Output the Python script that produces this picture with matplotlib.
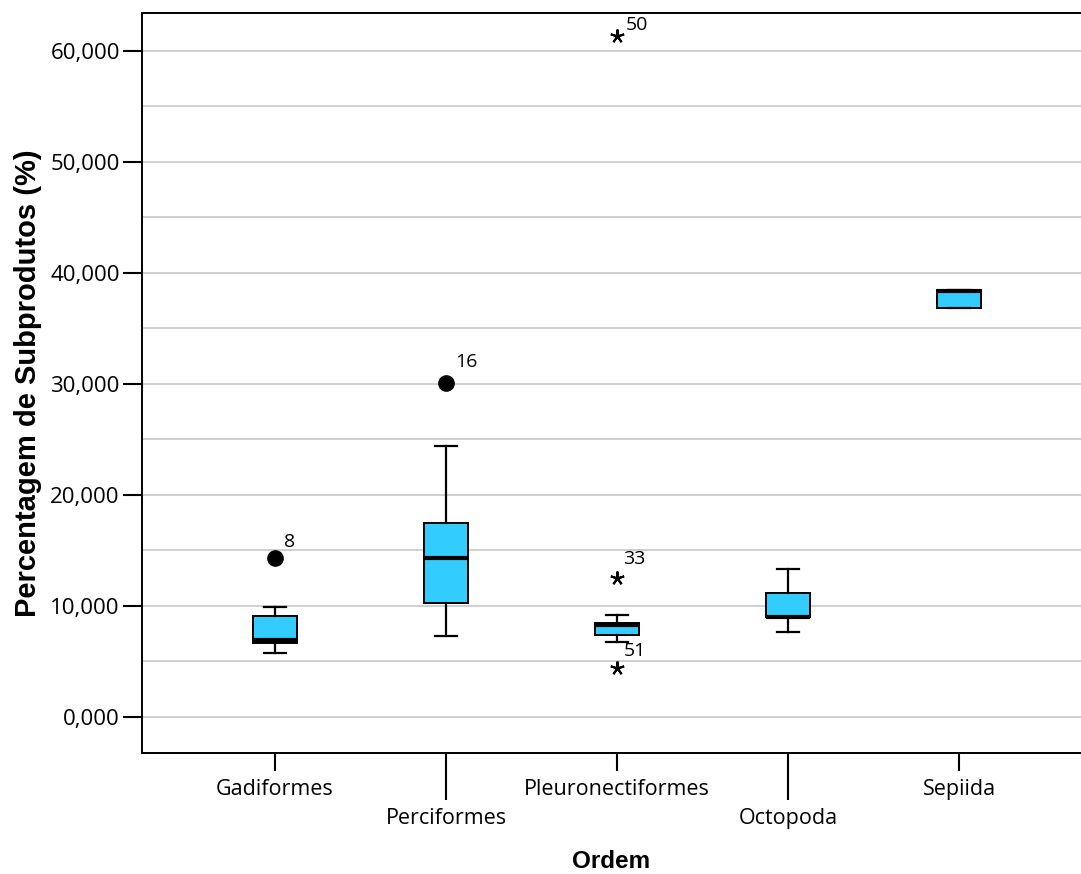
import matplotlib.pyplot as plt
from matplotlib.ticker import MultipleLocator, FuncFormatter

plt.rcParams['font.family'] = ['Open Sans', 'DejaVu Sans']

ordens = ['Gadiformes', 'Perciformes', 'Pleuronectiformes', 'Octopoda', 'Sepiida']
whis_lo = [5.77, 7.3, 6.8, 7.7, 36.8]
q1 = [6.7, 10.3, 7.39, 9.0, 36.8]
mediana = [6.94, 14.3, 8.3, 9.05, 38.4]
q3 = [9.1, 17.5, 8.47, 11.2, 38.5]
whis_hi = [9.9, 24.4, 9.2, 13.33, 38.5]

# outliers (circle) and extremes (star): (ordem index, value, case label, label offset in pt)
outliers = [(0, 14.3, '8', (6.5, 11.5)), (1, 30.05, '16', (6.5, 15))]
extremos = [(2, 61.3, '50', (6, 8)), (2, 12.5, '33', (4, 13.5)), (2, 4.4, '51', (4.5, 12))]

fig = plt.figure(figsize=(10.81, 8.74), dpi=100)
ax = fig.add_axes([142 / 1081, 121 / 874, 1 - 142 / 1081, 740 / 874])

stats = []
for i in range(len(ordens)):
    stats.append(dict(med=mediana[i], q1=q1[i], q3=q3[i],
                      whislo=whis_lo[i], whishi=whis_hi[i], fliers=[]))

pos = list(range(len(ordens)))
ax.bxp(stats, positions=pos, widths=0.26, patch_artist=True, showfliers=False,
       boxprops=dict(facecolor='#33ccff', edgecolor='black', linewidth=1.4),
       medianprops=dict(color='black', linewidth=3),
       whiskerprops=dict(color='black', linewidth=1.6),
       capprops=dict(color='black', linewidth=1.6),
       capwidths=0.13, zorder=3)

for i, v, lab, off in outliers:
    ax.plot(i, v, 'o', color='black', markersize=11, zorder=4)
    ax.annotate(lab, (i, v), xytext=off, textcoords='offset points',
                fontsize=14, va='center', ha='left')
for i, v, lab, off in extremos:
    ax.plot(i, v, marker=(5, 2, 0), color='black', markersize=10,
            markeredgewidth=1.5, linestyle='none', zorder=4)
    ax.annotate(lab, (i, v), xytext=off, textcoords='offset points',
                fontsize=14, va='center', ha='left')

ax.set_xlim(-0.778, 4.713)
ax.set_ylim(-3.24, 63.4)

ax.yaxis.set_major_locator(MultipleLocator(10))
ax.yaxis.set_minor_locator(MultipleLocator(5))
ax.yaxis.set_major_formatter(FuncFormatter(lambda v, p: f'{v:.3f}'.replace('.', ',')))
ax.grid(axis='y', which='both', color='#cccccc', linewidth=1.3, zorder=0)
ax.set_axisbelow(True)
ax.tick_params(axis='y', which='major', length=14, width=1.5, labelsize=16, pad=2)
ax.tick_params(axis='y', which='minor', length=0)

# staggered category labels: alternate ones sit on longer ticks
ax.set_xticks(pos[0::2], [ordens[i] for i in pos[0::2]])
ax.set_xticks(pos[1::2], [ordens[i] for i in pos[1::2]], minor=True)
ax.tick_params(axis='x', which='major', length=13, width=1.5, labelsize=15.5, pad=5.5)
ax.tick_params(axis='x', which='minor', length=34, width=1.5, labelsize=15.5, pad=5.5)

for s in ax.spines.values():
    s.set_linewidth(1.4)
ax.spines['right'].set_visible(False)

ax.set_ylabel('Percentagem de Subprodutos (%)', family='Liberation Sans',
              fontweight='bold', fontsize=21, labelpad=6)
ax.set_xlabel('Ordem', family='Liberation Sans', fontweight='bold',
              fontsize=17.5, labelpad=15)

fig.savefig('out.png', dpi=100)
